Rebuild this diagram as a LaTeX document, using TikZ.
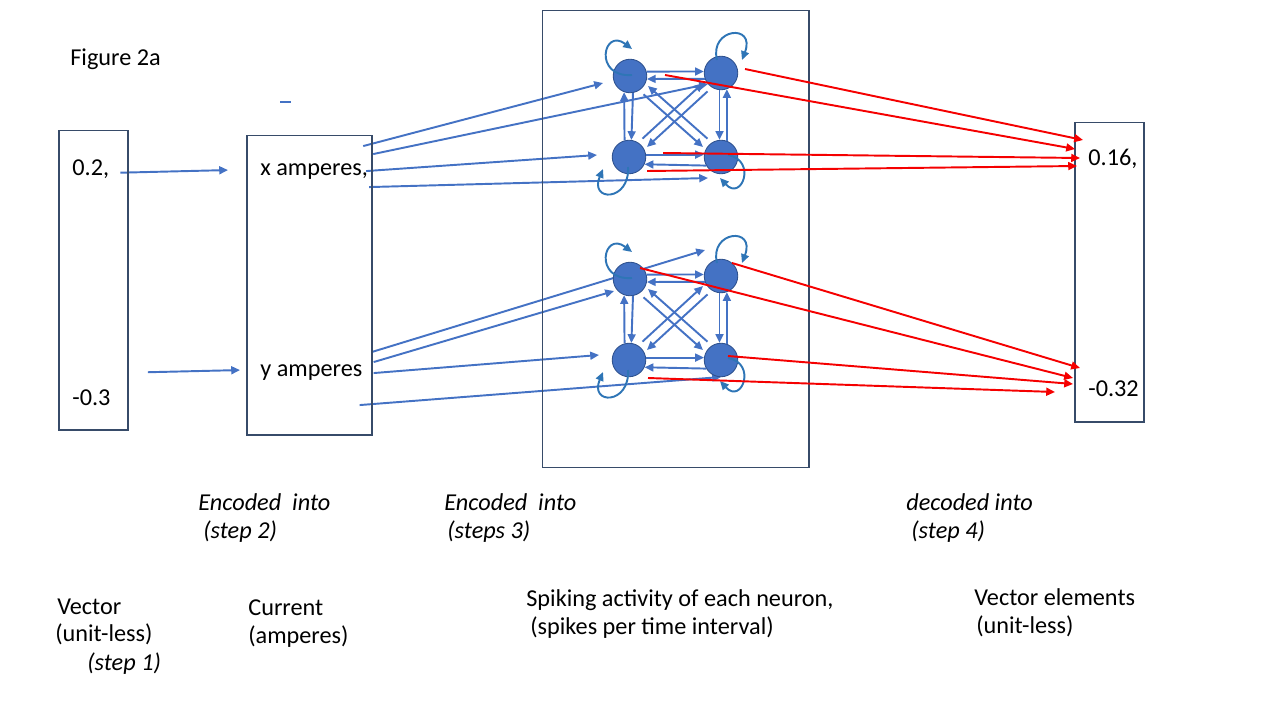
\documentclass[tikz,border=0pt]{standalone}
\usepackage{fontspec}
\setmainfont{Carlito}
\usetikzlibrary{arrows.meta}
\usetikzlibrary{backgrounds}

\definecolor{nrnfill}{RGB}{68,114,196}
\definecolor{nrnedge}{RGB}{47,82,143}
\definecolor{loopblue}{RGB}{46,117,182}
\definecolor{panelline}{RGB}{55,75,105}
\definecolor{decodered}{RGB}{245,0,0}

\begin{document}
\begin{tikzpicture}[x=0.02cm, y=-0.02cm,
  panel/.style={draw=panelline, line width=0.6pt, inner sep=0pt},
  txt/.style={inner sep=0pt, anchor=base west, font=\fontsize{13.8}{16}\selectfont},
  itxt/.style={txt, font=\fontsize{13.8}{16}\selectfont\itshape},
  neuron/.style={circle, fill=nrnfill, draw=nrnedge, line width=0.5pt, minimum size=0.67cm, inner sep=0pt},
  syn/.style={draw=nrnfill, line width=1.1pt, -{Triangle[length=5pt,width=4.5pt]}},
  feed/.style={syn},
  selfloop/.style={draw=loopblue, line width=1.1pt, -{Triangle[length=5pt,width=4.5pt]}},
  decode/.style={draw=decodered, line width=1.1pt, -{Triangle[length=5pt,width=4.5pt]}}]
  \useasboundingbox (0,0) rectangle (1280,720);

  % Boxes
  \node[panel, minimum width=1.38cm, minimum height=6cm] (vecbox) at (93.5,280) {};
  \node[panel, minimum width=2.5cm, minimum height=6cm] (curbox) at (309.5,285) {};
  \node[panel, minimum width=5.34cm, minimum height=9.16cm] (spikebox) at (675.5,239) {};
  \node[panel, minimum width=1.38cm, minimum height=6cm] (outbox) at (1109.5,272) {};

  % Title
  \node[txt] (title) at (70,65) {Figure 2a};
  \draw[draw=nrnfill, line width=0.6pt] (280,102) -- (291,102);

  % Values
  \node[txt] (v1) at (72,175) {0.2,};
  \node[txt] (v2) at (72,405) {-0.3};
  \node[txt] (c1) at (260,175) {x amperes,};
  \node[txt] (c2) at (260,376) {y amperes};
  \node[txt] (o1) at (1088,165) {0.16,};
  \node[txt] (o2) at (1088,396) {-0.32};

  % Neurons
  \foreach \c/\dy in {a/0, b/203} {
    \node[neuron] (tl\c) at (630,76+\dy) {};
    \node[neuron] (tr\c) at (721,73+\dy) {};
    \node[neuron] (bl\c) at (629,157+\dy) {};
    \node[neuron] (br\c) at (721,157+\dy) {};
  }

  % Encoding
  \begin{pgfonlayer}{background}
    \draw[feed] ([shift={(11,4)}]v1.east) -- ([shift={(-32,-1)}]c1.west);
    \draw[feed] ([shift={(37,-25)}]v2.east) -- ([shift={(-20,-2)}]c2.west);

    \draw[feed] ([shift={(-5,-25)}]c1.east) -- ([shift={(-27,7)}]tla.center);
    \draw[feed] ([shift={(5,-17)}]c1.east) -- ([shift={(-13,11)}]tra.center);
    \draw[feed] ([shift={(-2,0)}]c1.east) -- ([shift={(-32,-2)}]bla.center);
    \draw[feed] ([shift={(1,16)}]c1.east) -- ([shift={(-13,21)}]bra.center);

    \draw[feed] ([shift={(9,-20)}]c2.east) -- ([shift={(-16,-26)}]trb.center);
    \draw[feed] ([shift={(11,-10)}]c2.east) -- ([shift={(-16,12)}]tlb.center);
    \draw[feed] ([shift={(11,1)}]c2.east) -- ([shift={(-30,-5)}]blb.center);
    \draw[feed] ([shift={(-3,33)}]c2.east) -- ([shift={(0,17)}]brb.center);
  \end{pgfonlayer}

  % Connections inside each group
  \foreach \c in {a,b} {
    \draw[syn] (tl\c.15) -- (tr\c.175);
    \draw[syn] (tr\c.-160) -- (tl\c.-10);
    \draw[syn] (tl\c.-80) -- (bl\c.82);
    \draw[syn] (bl\c.105) -- (tl\c.-110);
    \draw[syn] (tr\c.-95) -- (br\c.95);
    \draw[syn] (br\c.70) -- (tr\c.-70);
    \draw[syn] (bl\c.8) -- (br\c.172);
    \draw[syn] (br\c.-150) -- (bl\c.-25);
    \draw[syn, shorten <=0.1cm, shorten >=0.06cm] ([shift={(-3,3.5)}]tl\c.-42) -- ([shift={(-3,3.5)}]br\c.138);
    \draw[syn, shorten <=0.1cm, shorten >=0.06cm] ([shift={(3,-3.5)}]br\c.138) -- ([shift={(3,-3.5)}]tl\c.-42);
    \draw[syn, shorten <=0.1cm, shorten >=0.06cm] ([shift={(-3,-3.5)}]bl\c.42) -- ([shift={(-3,-3.5)}]tr\c.222);
    \draw[syn, shorten <=0.1cm, shorten >=0.06cm] ([shift={(3,3.5)}]tr\c.222) -- ([shift={(3,3.5)}]bl\c.42);
  }

  % Self connections
  \foreach \c in {a,b} {
    \draw[selfloop] ([shift={(2,-1)}]tl\c.center) .. controls +(-39,3) and +(-29,-22) .. ([shift={(2,-27)}]tl\c.center);
    \draw[selfloop] ([shift={(-4,-13)}]tr\c.center) .. controls +(-8,-32) and +(14,-37) .. ([shift={(21,-13)}]tr\c.center);
    \draw[selfloop] ([shift={(-1,10)}]bl\c.center) .. controls +(2,35) and +(-14,33) .. ([shift={(-26,12)}]bl\c.center);
    \draw[selfloop] ([shift={(7,-2)}]br\c.center) .. controls +(29,5) and +(22,24) .. ([shift={(-1,21)}]br\c.center);
  }

  % Decoding
  \coordinate (h1) at (1083,140);
  \coordinate (h2) at (1075,149);
  \coordinate (h3) at (1080,158);
  \coordinate (h4) at (1077,166);
  \coordinate (k1) at (1080,368);
  \coordinate (k2) at (1073,378);
  \coordinate (k3) at (1073,384);
  \coordinate (k4) at (1055,392);
  \draw[decode] ([shift={(24,-4)}]tra.center) -- (h1);
  \draw[decode] ([shift={(35,-1)}]tla.center) -- (h2);
  \draw[decode] ([shift={(34,-4)}]bla.center) -- (h3);
  \draw[decode] ([shift={(18,14)}]bla.center) -- (h4);
  \draw[decode] ([shift={(11,-13)}]trb.center) -- (k1);
  \draw[decode] ([shift={(10,-11)}]tlb.center) -- (k2);
  \draw[decode] ([shift={(7,-4)}]brb.center) -- (k3);
  \draw[decode] ([shift={(19,18)}]blb.center) -- (k4);

  % Step labels
  \node[itxt] (enc1) at (198,510) {Encoded\ \ into};
  \node[itxt] (enc1s) at (203,538) {(step 2)};
  \node[itxt] (enc2) at (444,510) {Encoded\ \ into};
  \node[itxt] (enc2s) at (447,538) {(steps 3)};
  \node[itxt] (dec) at (906,510) {decoded into};
  \node[itxt] (decs) at (911,538) {(step 4)};

  % Quantities
  \node[txt] (vec) at (57,614) {Vector};
  \node[txt] (vecu) at (55,641) {(unit-less)};
  \node[itxt] (vecs) at (87,670) {(step 1)};
  \node[txt] (cur) at (248,615) {Current};
  \node[txt] (curu) at (248,643) {(amperes)};
  \node[txt] (spk) at (526,606) {Spiking activity of each neuron,};
  \node[txt] (spku) at (530,634) {(spikes per time interval)};
  \node[txt] (vel) at (974,605) {Vector elements};
  \node[txt] (velu) at (976,633) {(unit-less)};
\end{tikzpicture}
\end{document}
